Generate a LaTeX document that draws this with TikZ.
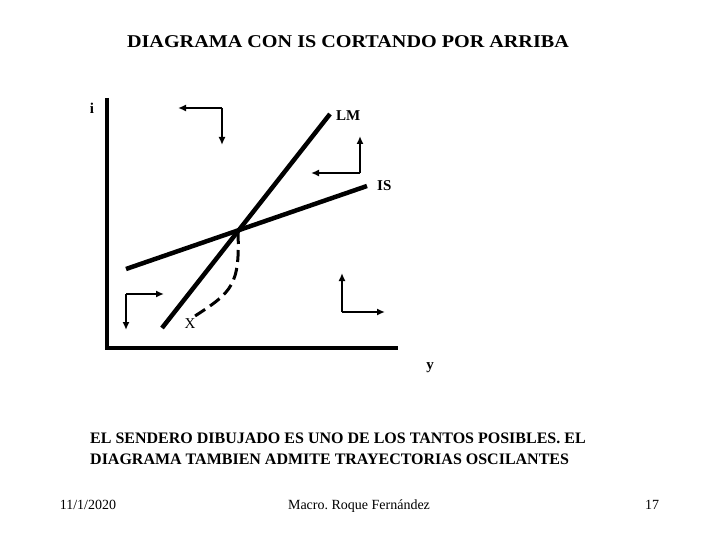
\documentclass[tikz,border=0pt]{standalone}
\usepackage{fontspec}
\setmainfont{Liberation Serif}
\usetikzlibrary{arrows.meta}
\frenchspacing
\begin{document}
\begin{tikzpicture}[x=1pt,y=-1pt,
  axis/.style={line width=4pt},
  curve/.style={line width=4.5pt},
  move/.style={line width=1.8pt,-{Latex[length=8pt,width=7pt]}},
  path/.style={line width=3pt,dash pattern=on 12pt off 6pt},
  lbl/.style={font=\bfseries\fontsize{15}{17}\selectfont,inner sep=0pt},
  txt/.style={font=\bfseries\fontsize{16}{21}\selectfont,inner sep=0pt,anchor=base west},
  foot/.style={font=\fontsize{14}{16}\selectfont,inner sep=0pt,anchor=base}]
\useasboundingbox (0,0) rectangle (720,540);
% title
\node[font=\bfseries\fontsize{18}{21}\selectfont,inner sep=0pt,anchor=base,xscale=1.12] (title) at (348,48) {DIAGRAMA CON IS CORTANDO POR ARRIBA};
% axes
\coordinate (o) at (107,348);
\coordinate (ytop) at (107,98);
\coordinate (xend) at (398,348);
\draw[axis] (ytop) -- (o) -- (xend);
% curves
\coordinate (lm0) at (162,328);
\coordinate (lm1) at (330,114);
\coordinate (is0) at (126,269);
\coordinate (is1) at (367,186);
\draw[curve] (lm0) -- (lm1);
\draw[curve] (is0) -- (is1);
\coordinate (eq) at (238,232);
\coordinate (xpt) at (195,316);
\draw[path] (eq) .. controls (240,285) and (232,292) .. (xpt);
% labels
\node[lbl] (li) at (92,108) {i};
\node[lbl,anchor=west] (llm) at (336,116) {LM};
\node[lbl,anchor=west] (lis) at (377,186) {IS};
\node[lbl] (ly) at (430,368) {y};
\node[lbl,font=\fontsize{15}{17}\selectfont] (lx) at (190,324) {X};
% direction arrows
\coordinate (c1) at (222,108);
\coordinate (c1a) at (178,108);
\coordinate (c1b) at (222,145);
\draw[move] (c1) -- (c1a);
\draw[move] (c1) -- (c1b);
\coordinate (c2) at (360,173);
\coordinate (c2a) at (311,173);
\coordinate (c2b) at (360,136);
\draw[move] (c2) -- (c2a);
\draw[move] (c2) -- (c2b);
\coordinate (c3) at (126,294);
\coordinate (c3a) at (164,294);
\coordinate (c3b) at (126,330);
\draw[move] (c3) -- (c3a);
\draw[move] (c3) -- (c3b);
\coordinate (c4) at (342,312);
\coordinate (c4a) at (342,273);
\coordinate (c4b) at (385,312);
\draw[move] (c4) -- (c4a);
\draw[move] (c4) -- (c4b);
% body text
\node[txt] (t1) at (90,443) {EL SENDERO DIBUJADO ES UNO DE LOS TANTOS POSIBLES. EL};
\node[txt] (t2) at (90,464) {DIAGRAMA TAMBIEN ADMITE TRAYECTORIAS OSCILANTES};
% footer
\node[foot] (f1) at (88,509) {11/1/2020};
\node[foot] (f2) at (359,509) {Macro. Roque Fernández};
\node[foot] (f3) at (652,509) {17};
\end{tikzpicture}
\end{document}
